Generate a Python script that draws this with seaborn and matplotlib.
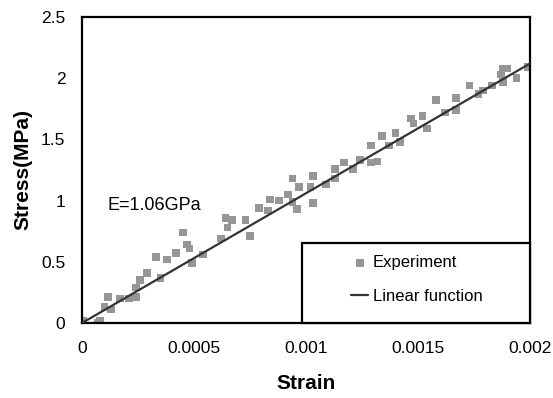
import numpy as np
import matplotlib
matplotlib.use("Agg")
import matplotlib.pyplot as plt
import seaborn as sns
import pandas as pd
from matplotlib.patches import Rectangle

# -------------------------------------------------------------------
# data
# -------------------------------------------------------------------
strain = [0.000004, 0.00007, 0.00008, 0.000116, 0.00013, 0.0001, 0.00017, 0.00021,
          0.00024, 0.00024, 0.00026, 0.00029, 0.00035, 0.00033, 0.00038, 0.00042,
          0.00045, 0.00047, 0.00048, 0.00049, 0.00054, 0.00062, 0.00065, 0.00064,
          0.00067, 0.00073, 0.00075, 0.00079, 0.00083, 0.00084, 0.00088, 0.00092,
          0.00094, 0.00096, 0.00094, 0.00097, 0.00103, 0.00103, 0.00102, 0.00109,
          0.00113, 0.00113, 0.00117, 0.00121, 0.00124, 0.00129, 0.00129, 0.00132,
          0.00134, 0.00137, 0.0014, 0.00142, 0.00147, 0.00148, 0.00152, 0.00154,
          0.00158, 0.00162, 0.00167, 0.00167, 0.00173, 0.00177, 0.00179, 0.00183,
          0.00187, 0.00188, 0.0019, 0.00188, 0.00194, 0.00199, 0.002]
stress = [0.02, 0.0, 0.02, 0.21, 0.11, 0.13, 0.20, 0.20,
          0.29, 0.21, 0.35, 0.41, 0.37, 0.54, 0.52, 0.57,
          0.74, 0.64, 0.61, 0.49, 0.56, 0.69, 0.78, 0.86,
          0.84, 0.84, 0.71, 0.94, 0.92, 1.01, 1.00, 1.05,
          0.99, 0.93, 1.18, 1.11, 0.98, 1.20, 1.11, 1.13,
          1.18, 1.26, 1.31, 1.26, 1.33, 1.45, 1.31, 1.32,
          1.53, 1.45, 1.55, 1.48, 1.67, 1.63, 1.69, 1.59,
          1.82, 1.72, 1.74, 1.84, 1.94, 1.87, 1.90, 1.94,
          2.03, 2.08, 2.08, 1.97, 2.00, 2.09, 2.09]
fit_strain = [0.0, 0.002]
fit_stress = [0.0, 2.12]
xticks = [0, 0.0005, 0.001, 0.0015, 0.002]
xticklabels = ["0", "0.0005", "0.001", "0.0015", "0.002"]
yticks = [0, 0.5, 1, 1.5, 2, 2.5]
yticklabels = ["0", "0.5", "1", "1.5", "2", "2.5"]

# -------------------------------------------------------------------
# plot
# -------------------------------------------------------------------
sns.set_style("white")
plt.rcParams['font.family'] = ['Liberation Sans', 'DejaVu Sans']
plt.rcParams['text.color'] = 'black'
plt.rcParams['axes.labelcolor'] = 'black'
plt.rcParams['xtick.color'] = 'black'
plt.rcParams['ytick.color'] = 'black'

df = pd.DataFrame({"strain": strain, "stress": stress})
df_fit = pd.DataFrame({"strain": fit_strain, "stress": fit_stress})

fig = plt.figure(figsize=(5.53, 3.98), dpi=100)
ax = fig.add_axes([82 / 553, 1 - 323 / 398, 448 / 553, 306 / 398])

sns.scatterplot(data=df, x="strain", y="stress", ax=ax, marker="s", s=30,
                color="#969696", edgecolor="none", label="Experiment", zorder=2)
sns.lineplot(data=df_fit, x="strain", y="stress", ax=ax, color="#333333",
             linewidth=1.6, label="Linear function", zorder=3)

ax.set_xlim(0, 0.002)
ax.set_ylim(0, 2.5)
ax.set_xticks(xticks)
ax.set_xticklabels(xticklabels)
ax.set_yticks(yticks)
ax.set_yticklabels(yticklabels)
ax.tick_params(direction="in", length=4, width=1.5, labelsize=12.5,
               color="black", labelcolor="black")
ax.tick_params(axis="x", pad=13)
ax.tick_params(axis="y", pad=12)
for sp in ax.spines.values():
    sp.set_linewidth(1.6)
    sp.set_color("black")

ax.set_xlabel("Strain", fontsize=15, fontweight="bold", labelpad=13)
ax.set_ylabel("Stress(MPa)", fontsize=15, fontweight="bold", labelpad=6)

ax.text(0.000112, 0.96, "E=1.06GPa", fontsize=13, va="center", ha="left")

# legend box
ax.add_patch(Rectangle((0.491, 0.0), 0.509, 0.261, transform=ax.transAxes,
                       facecolor="white", edgecolor="black", linewidth=1.6,
                       zorder=4, clip_on=False))
leg = ax.legend(loc="center", bbox_to_anchor=(0.748, 0.142), frameon=False,
                fontsize=12, labelspacing=1.1, handlelength=1.0,
                handletextpad=0.3, markerscale=1.0)
leg.set_zorder(5)

plt.savefig("out.png", dpi=100)
